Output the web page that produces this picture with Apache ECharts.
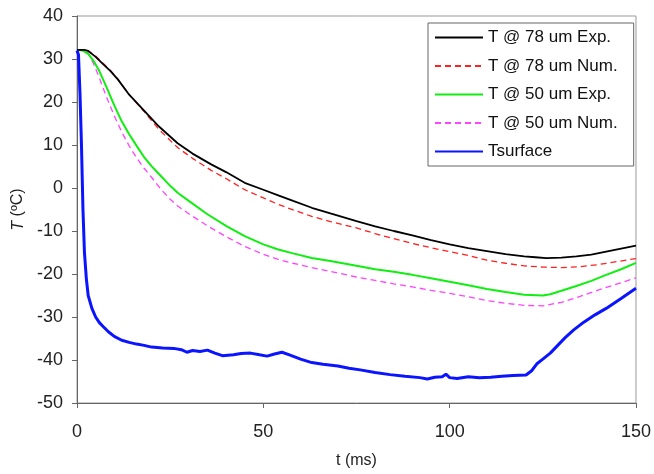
<!DOCTYPE html>
<html>
<head>
<meta charset="utf-8">
<script src="https://cdn.jsdelivr.net/npm/echarts@6/dist/echarts.min.js"></script>
<style>html,body{margin:0;padding:0;background:#fff}#c{width:654px;height:474px}</style>
</head>
<body>
<div id="c"></div>
<script>
const seriesNames = ['T @ 78 um Exp.', 'T @ 78 um Num.', 'T @ 50 um Exp.', 'T @ 50 um Num.', 'Tsurface'];
const xTicks = [0, 50, 100, 150];
const yTicks = [-50, -40, -30, -20, -10, 0, 10, 20, 30, 40];

const t78Exp = [0,2,3,5,7,9,11,14,18,22,27,31,36,40,45,50,54,58,63,68,75,80,85,90,95,100,105,110,115,120,123,126,130,134,138,142,146,150];
const T78Exp = [32.1,32.1,31.9,30.5,28.8,27.2,25.2,21.7,18.0,14.3,10.4,8.0,5.5,3.7,1.2,-0.4,-1.7,-3.0,-4.6,-5.9,-7.7,-8.9,-10.0,-11.0,-12.1,-13.1,-14.0,-14.7,-15.4,-15.9,-16.1,-16.3,-16.2,-15.9,-15.5,-14.8,-14.1,-13.4];

const t78Num = [0,2,3,5,7,9,11,14,18,22,27,31,36,40,45,50,54,58,63,68,75,80,85,90,95,100,105,110,115,120,125,130,135,140,145,150];
const T78Num = [32.1,32.1,31.9,30.7,29.0,27.3,25.3,21.7,17.8,13.6,9.4,6.9,4.1,2.2,-0.4,-2.3,-3.8,-5.1,-6.6,-7.8,-9.3,-10.6,-11.8,-12.9,-13.9,-14.8,-15.7,-16.8,-17.5,-18.1,-18.4,-18.5,-18.3,-17.8,-17.1,-16.4];

const t50Exp = [0,1.5,3,4.5,6,8,10,12,14,16,18,20,22.5,25,27,30,35,40,45,50,54,58,63,68,75,80,85,90,95,100,105,110,115,120,125,127,130,134,138,142,146,150];
const T50Exp = [32.1,32.0,31.2,29.5,27.2,23.3,19.2,15.5,12.5,9.8,7.2,5.1,2.8,0.5,-1.1,-3.0,-6.1,-8.8,-11.2,-13.1,-14.3,-15.2,-16.3,-17.0,-18.1,-18.9,-19.5,-20.2,-21.0,-21.8,-22.6,-23.5,-24.2,-24.8,-25.0,-24.7,-23.9,-22.8,-21.6,-20.2,-18.9,-17.4];

const t50Num = [0,1.5,3,4.5,6,8,10,12,14,16,18,20,22.5,25,27,30,35,40,45,50,54,58,63,68,75,80,85,90,95,100,105,110,115,120,125,130,135,140,145,150];
const T50Num = [32.1,32.0,31.5,28.8,25.6,21.0,16.8,13.0,9.8,7.0,4.6,2.5,-0.3,-2.6,-4.2,-6.0,-8.8,-11.3,-13.6,-15.4,-16.6,-17.5,-18.5,-19.4,-20.7,-21.5,-22.3,-23.0,-23.8,-24.5,-25.3,-26.2,-26.8,-27.3,-27.4,-26.6,-25.2,-23.7,-22.3,-20.9];

const tSurf = [0,0.4,0.8,1.2,1.6,2.0,2.5,3.0,4,5,6,7,8.5,10,12,14,16,18,20,23,26,28,29.5,31,33,35,37,39,42,44,46.5,49,51,53,55,57,60,63,66,70,73,76,80,84,88,92,94,96,98,99,100,102,105,108,111,114,117,120.5,122,123.5,125,127,129,131,133.3,136,139,142,146,150];
const TSurf = [32,31,22,10,-5,-15,-21,-25,-28,-30,-31.3,-32.2,-33.5,-34.5,-35.4,-35.9,-36.3,-36.6,-37.0,-37.2,-37.3,-37.6,-38.2,-37.8,-38.0,-37.7,-38.4,-39.0,-38.8,-38.5,-38.4,-38.8,-39.1,-38.6,-38.2,-38.8,-39.8,-40.6,-41.0,-41.4,-41.9,-42.3,-42.9,-43.4,-43.8,-44.1,-44.4,-44.0,-43.9,-43.3,-44.1,-44.3,-43.9,-44.1,-44.0,-43.8,-43.6,-43.5,-42.5,-40.8,-39.8,-38.4,-36.6,-34.8,-33.0,-31.2,-29.5,-28.0,-25.7,-23.3];

function pairs(xs, ys) { return xs.map((x, i) => [x, ys[i]]); }

const FONT = 'Arial, "Liberation Sans", sans-serif';
const chart = echarts.init(document.getElementById('c'), null, {renderer: 'canvas'});

const axisCommon = {
  type: 'value',
  axisLine: {show: true, onZero: false, lineStyle: {color: '#666', width: 1}},
  axisTick: {show: true, inside: false, length: 5, lineStyle: {color: '#666'}},
  splitLine: {show: false},
  nameLocation: 'middle',
  nameTextStyle: {fontFamily: FONT, fontSize: 16, color: '#222'}
};

chart.setOption({
  animation: false,
  backgroundColor: '#fff',
  grid: {left: 77, right: 18, top: 16, bottom: 71, show: true, borderColor: '#999', borderWidth: 1, containLabel: false},
  xAxis: Object.assign({}, axisCommon, {
    min: xTicks[0], max: xTicks[xTicks.length - 1], interval: xTicks[1] - xTicks[0],
    name: 't (ms)', nameGap: 50,
    axisLabel: {fontFamily: FONT, fontSize: 18, color: '#222', margin: 20}
  }),
  yAxis: Object.assign({}, axisCommon, {
    min: yTicks[0], max: yTicks[yTicks.length - 1], interval: yTicks[1] - yTicks[0],
    name: '{it|T} (ºC)', nameGap: 50, nameRotate: 90,
    nameTextStyle: {fontFamily: FONT, fontSize: 16, color: '#222', rich: {it: {fontStyle: 'italic', fontFamily: FONT, fontSize: 16, color: '#222'}}},
    axisLabel: {fontFamily: FONT, fontSize: 18, color: '#222', margin: 14}
  }),
  legend: {
    orient: 'vertical', left: 428, top: 23,
    itemWidth: 48, itemHeight: 14, itemGap: 11.5,
    padding: [6, 16, 6, 6],
    borderColor: '#666', borderWidth: 1, backgroundColor: '#fff',
    itemStyle: {opacity: 0, borderWidth: 0},
    textStyle: {fontFamily: FONT, fontSize: 17, color: '#111', lineHeight: 17},
    data: seriesNames
  },
  series: [
    {name: seriesNames[0], type: 'line', symbol: 'none', data: pairs(t78Exp, T78Exp), lineStyle: {color: '#000', width: 1.8}, itemStyle: {color: '#000'}, z: 5},
    {name: seriesNames[1], type: 'line', symbol: 'none', data: pairs(t78Num, T78Num), lineStyle: {color: '#ff2020', width: 1.3, type: [6, 4]}, itemStyle: {color: '#ff2020'}, z: 4},
    {name: seriesNames[2], type: 'line', symbol: 'none', data: pairs(t50Exp, T50Exp), lineStyle: {color: '#11ee11', width: 2}, itemStyle: {color: '#11ee11'}, z: 3},
    {name: seriesNames[3], type: 'line', symbol: 'none', data: pairs(t50Num, T50Num), lineStyle: {color: '#ff44ff', width: 1.3, type: [6, 4]}, itemStyle: {color: '#ff44ff'}, z: 2},
    {name: seriesNames[4], type: 'line', symbol: 'none', data: pairs(tSurf, TSurf), lineStyle: {color: '#0a14ff', width: 3}, itemStyle: {color: '#0a14ff'}, z: 6}
  ]
});
</script>
</body>
</html>
